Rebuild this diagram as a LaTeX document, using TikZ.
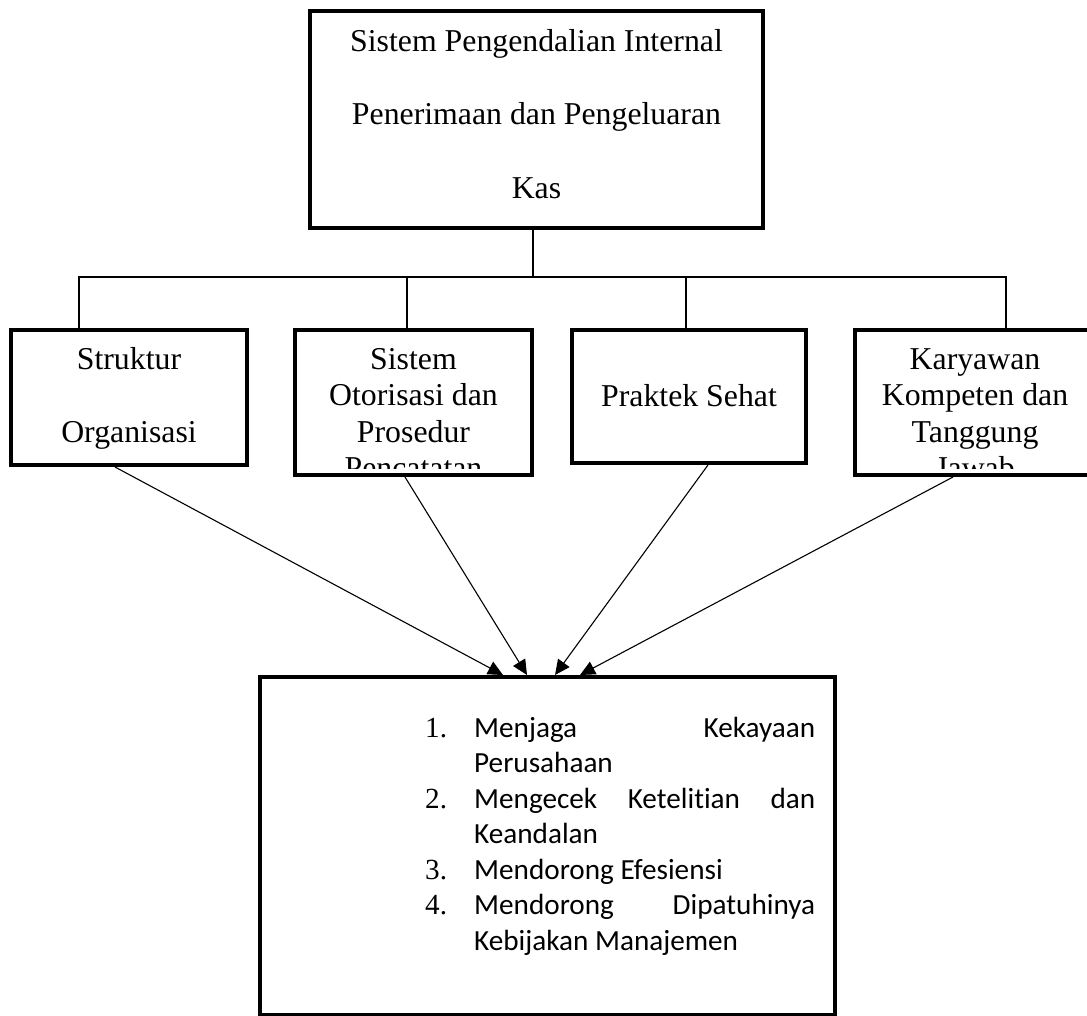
\documentclass[tikz,border=0pt]{standalone}
\usepackage{fontspec}
\setmainfont{Liberation Serif}
\newfontfamily\calibri{Carlito}[Ligatures=NoCommon]
\usetikzlibrary{arrows.meta}

\tikzset{
  kotak/.style={draw, line width=4pt, rectangle, inner sep=0pt},
  isi/.style={anchor=base, inner sep=0pt, font=\fontsize{31.8}{36.6}\selectfont},
  renggang/.style={font=\fontsize{31.8}{73.5}\selectfont},
  garis/.style={line width=1.3pt},
  panah/.style={line width=1.1pt, -{Triangle[length=15pt,width=14pt]}},
}
\newcommand{\poin}[1]{{\rmfamily\fontsize{29.2}{35.5}\selectfont #1}\hfil}

\begin{document}
\begin{tikzpicture}[x=1pt,y=1pt]
  \path[use as bounding box, clip] (0,0) rectangle (1087,-1015);
  \fill[white] (0,0) rectangle (1087,-1015);

  % kotak utama
  \node[kotak, minimum width=453pt, minimum height=217pt] (atas) at (536.5,-119.5) {};
  \node[isi, renggang] (atasteks) at ([yshift=-42pt]atas.north)
    {\parbox[t]{440pt}{\centering Sistem Pengendalian Internal\\Penerimaan dan Pengeluaran\\Kas}};

  % empat unsur
  \node[kotak, minimum width=236pt, minimum height=135pt] (struktur) at (129,-397.5) {};
  \node[kotak, minimum width=237pt, minimum height=145pt] (sistem) at (413.5,-402.5) {};
  \node[kotak, minimum width=234pt, minimum height=133pt] (praktek) at (689,-396.5) {};
  \node[kotak, minimum width=240pt, minimum height=145pt] (karyawan) at (975,-402.5) {};

  \node[isi, renggang] (strukturteks) at ([yshift=-41pt]struktur.north)
    {\parbox[t]{230pt}{\centering Struktur\\Organisasi}};
  \begin{scope}
    \clip ([shift={(2pt,9pt)}]sistem.south west) rectangle ([shift={(-2pt,-2pt)}]sistem.north east);
    \node[isi] (sistemteks) at ([yshift=-41pt]sistem.north)
      {\parbox[t]{230pt}{\centering Sistem\\Otorisasi dan\\Prosedur\\Pencatatan}};
  \end{scope}
  \node[isi] (praktekteks) at ([yshift=-78pt]praktek.north) {Praktek Sehat};
  \begin{scope}
    \clip ([shift={(2pt,9pt)}]karyawan.south west) rectangle ([shift={(-2pt,-2pt)}]karyawan.north east);
    \node[isi] (karyawanteks) at ([yshift=-41pt]karyawan.north)
      {\parbox[t]{230pt}{\centering Karyawan\\Kompeten dan\\Tanggung\\Jawab}};
  \end{scope}

  % tujuan
  \node[kotak, minimum width=575pt, minimum height=338pt] (tujuan) at (547.5,-846) {};
  \node[anchor=base west, inner sep=0pt] (daftar) at (425,-737)
    {\begin{minipage}[t]{390pt}\calibri\fontsize{29.2}{35.5}\selectfont
      \hyphenpenalty=10000 \tolerance=10000
      \begin{list}{}{\setlength\leftmargin{49pt}\setlength\labelwidth{49pt}%
        \setlength\labelsep{0pt}\setlength\itemsep{0pt}\setlength\parsep{0pt}%
        \setlength\topsep{0pt}\setlength\partopsep{0pt}\let\makelabel\poin}
      \item[1.] Menjaga Kekayaan\linebreak Perusahaan
      \item[2.] Mengecek Ketelitian dan\linebreak Keandalan
      \item[3.] Mendorong Efesiensi
      \item[4.] Mendorong Dipatuhinya\linebreak Kebijakan Manajemen
      \end{list}\end{minipage}};

  % garis cabang
  \coordinate (cabang) at ([xshift=-3.5pt]atas.south |- 0,-277);
  \coordinate (kiri) at ([xshift=-50pt]struktur.north);
  \coordinate (kanan) at ([xshift=31pt]karyawan.north);
  \coordinate (tengah1) at ([xshift=-6.5pt]sistem.north);
  \coordinate (tengah2) at ([xshift=-3pt]praktek.north);
  \draw[garis] ([xshift=-3.5pt]atas.south) -- (cabang);
  \draw[garis] (kiri) |- (cabang) -| (kanan);
  \draw[garis] (tengah1) -- (tengah1 |- cabang);
  \draw[garis] (tengah2) -- (tengah2 |- cabang);

  % panah
  \draw[panah] ([xshift=-14pt]struktur.south) -- ([xshift=-44.5pt]tujuan.north);
  \draw[panah] ([xshift=-8.5pt]sistem.south) -- ([xshift=-20.5pt]tujuan.north);
  \draw[panah] ([xshift=19pt]praktek.south) -- ([xshift=7.5pt]tujuan.north);
  \draw[panah] ([xshift=-22pt]karyawan.south) -- ([xshift=32.5pt]tujuan.north);
\end{tikzpicture}
\end{document}
